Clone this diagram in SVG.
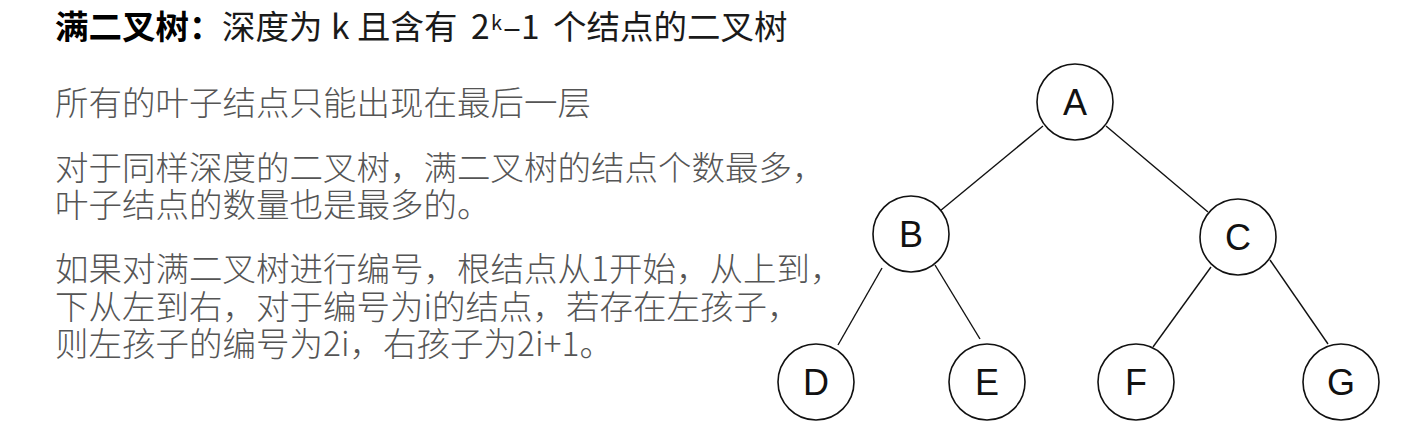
<svg xmlns="http://www.w3.org/2000/svg" width="1422" height="430" viewBox="0 0 1422 430">
<style>
  .t { font-family: "Noto Sans CJK SC", "Liberation Sans", sans-serif; font-size: 33.5px; }
  .title { fill: #1a1a1a; font-weight: 400; }
  .b { font-weight: bold; fill: #000; }
  .body { fill: #555; font-weight: 300; }
  .node circle { fill: #fff; stroke: #111; stroke-width: 1.6; }
  .node text { font-family: "Liberation Sans", Arial, sans-serif; font-size: 36px; fill: #111; text-anchor: middle; }
  #edges line { stroke: #111; stroke-width: 1.4; }
</style>
<rect width="1422" height="430" fill="#fff"/>
<g id="title">
  <text class="t title" y="39"><tspan class="b" x="55">满二叉树：</tspan><tspan x="222">深度为</tspan><tspan x="331">k</tspan><tspan x="357">且含有</tspan><tspan x="471">2</tspan><tspan x="491" y="30" font-size="20">k</tspan><tspan x="503" y="39">–1</tspan><tspan x="553">个结点的二叉树</tspan></text>
</g>
<g id="description">
  <text class="t body" x="55" y="115">所有的叶子结点只能出现在最后一层</text>
  <text class="t body"><tspan x="55" y="180">对于同样深度的二叉树，满二叉树的结点个数最多，</tspan><tspan x="55" y="217">叶子结点的数量也是最多的。</tspan></text>
  <text class="t body"><tspan x="55" y="281">如果对满二叉树进行编号，根结点从1开始，从上到，</tspan><tspan x="55" y="319">下从左到右，对于编号为i的结点，若存在左孩子，</tspan><tspan x="55" y="356">则左孩子的编号为2i，右孩子为2i+1。</tspan></text>
</g>
<g id="edges">
  <line x1="1043" y1="126" x2="940" y2="211"/>
  <line x1="1106" y1="126" x2="1208" y2="212"/>
  <line x1="882" y1="268" x2="838" y2="345"/>
  <line x1="935" y1="265" x2="980" y2="339"/>
  <line x1="1211" y1="267" x2="1153" y2="347"/>
  <line x1="1270" y1="260" x2="1328" y2="344"/>
</g>
<g id="node-A" class="node"><circle cx="1075" cy="102" r="38"/><text x="1075" y="115">A</text></g>
<g id="node-B" class="node"><circle cx="911" cy="234" r="38"/><text x="911" y="247">B</text></g>
<g id="node-C" class="node"><circle cx="1238" cy="237" r="38"/><text x="1238" y="250">C</text></g>
<g id="node-D" class="node"><circle cx="816" cy="382" r="38"/><text x="816" y="395">D</text></g>
<g id="node-E" class="node"><circle cx="987" cy="382" r="38"/><text x="987" y="395">E</text></g>
<g id="node-F" class="node"><circle cx="1136" cy="382" r="38"/><text x="1136" y="395">F</text></g>
<g id="node-G" class="node"><circle cx="1341" cy="382" r="38"/><text x="1341" y="395">G</text></g>
</svg>
